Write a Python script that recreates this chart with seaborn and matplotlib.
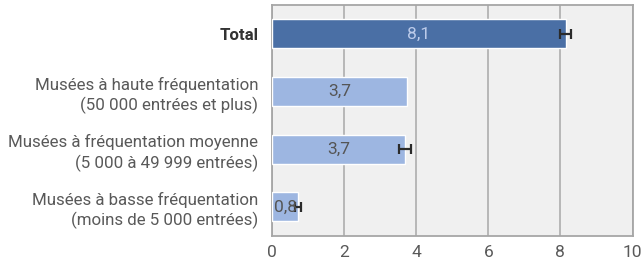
import numpy as np
import pandas as pd
import matplotlib
matplotlib.use("Agg")
import matplotlib.pyplot as plt
import seaborn as sns
from matplotlib.ticker import MultipleLocator

# data
categories = [
    "Total",
    "Musées à haute fréquentation\n(50 000 entrées et plus)",
    "Musées à fréquentation moyenne\n(5 000 à 49 999 entrées)",
    "Musées à basse fréquentation\n(moins de 5 000 entrées)",
]
values = [8.15, 3.74, 3.68, 0.73]
value_labels = ["8,1", "3,7", "3,7", "0,8"]
errors = [0.15, 0.0, 0.17, 0.08]

sns.set_style("white")
plt.rcParams["font.family"] = ["Roboto", "DejaVu Sans"]

df = pd.DataFrame({"cat": categories, "val": values})
colors = ["#4a6fa5", "#9db6e1", "#9db6e1", "#9db6e1"]

fig = plt.figure(figsize=(6.44, 2.62), dpi=100)
ax = fig.add_axes([0.4224, 0.1004, 0.5598, 0.8805])
ax.set_facecolor("#f0f0f0")

sns.barplot(data=df, x="val", y="cat", hue="cat", palette=colors, legend=False,
            orient="h", width=0.5, saturation=1, ax=ax, zorder=3)

# error bars where there are any
for i, (v, e) in enumerate(zip(values, errors)):
    if e > 0:
        ax.errorbar(v, i, xerr=e, fmt="none", ecolor="#2b2b2b", elinewidth=1.6,
                    capsize=3.8, capthick=1.6, zorder=5)

# value labels centred in bars
for i, (v, lab) in enumerate(zip(values, value_labels)):
    col = "#bccbea" if i == 0 else "#555555"
    ax.text(v / 2, i, lab, ha="center", va="center", fontsize=12.5,
            color=col, zorder=6)

ax.set_xlim(0, 10)
ax.set_ylim(3.5, -0.5)
ax.xaxis.set_major_locator(MultipleLocator(2))
ax.xaxis.set_minor_locator(MultipleLocator(1))
ax.grid(axis="x", which="major", color="#b3b3b3", linewidth=1.3, zorder=0)
ax.set_axisbelow(True)
ax.set_xlabel("")
ax.set_ylabel("")

for s in ax.spines.values():
    s.set_color("#a6a6a6")
    s.set_linewidth(1.3)

ax.tick_params(axis="x", which="major", length=4, width=1.0, color="#a6a6a6",
               labelsize=12.5, labelcolor="#595959", pad=3)
ax.tick_params(axis="x", which="minor", length=2, width=1.0, color="#a6a6a6")
ax.tick_params(axis="y", length=0, labelsize=12.2, labelcolor="#595959", pad=10)

for lab in ax.get_yticklabels():
    lab.set_multialignment("right")
    lab.set_linespacing(1.3)
    if lab.get_text() == "Total":
        lab.set_fontweight("bold")
        lab.set_color("#333333")

fig.savefig("out.png", dpi=100)
